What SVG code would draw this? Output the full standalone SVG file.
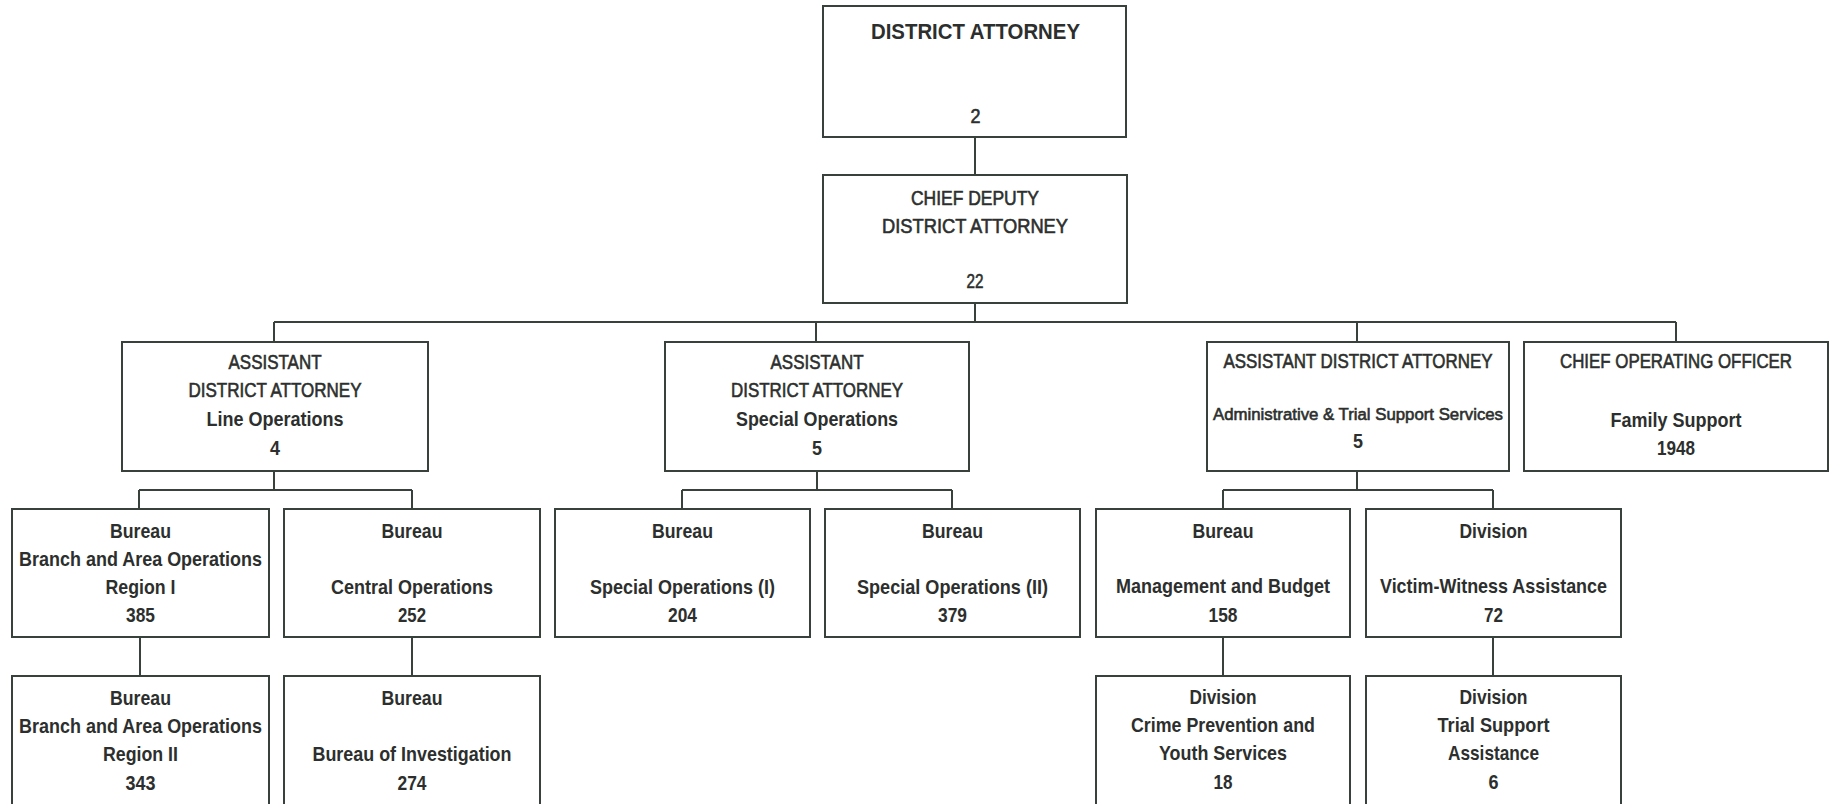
<svg xmlns="http://www.w3.org/2000/svg" width="1837" height="804" viewBox="0 0 1837 804">
  <style>
    .box { fill: #ffffff; stroke: #39413c; stroke-width: 2; }
    .wire { fill: none; stroke: #39413c; stroke-width: 2; }
    text { font-family: "Liberation Sans", Arial, sans-serif; fill: #2c2f2d; text-anchor: middle; }
    .b { font-weight: bold; font-size: 21px; }
    .bl { font-weight: bold; font-size: 22px; }
    .r { font-weight: normal; font-size: 20px; stroke: #2c2f2d; stroke-width: 0.6; }
    .s { font-weight: normal; font-size: 17px; stroke: #2c2f2d; stroke-width: 0.6; }
  </style>
  <rect width="1837" height="804" fill="#ffffff"/>

  <!-- reporting lines -->
  <g id="connectors">
    <path class="wire" d="M975 137V175M975 303V322M274 322H1676M274 322V342M816 322V342M1357 322V342M1676 322V342"/>
    <path class="wire" d="M274 471V490M139 490H412M139 490V509M412 490V509"/>
    <path class="wire" d="M817 471V490M682 490H952M682 490V509M952 490V509"/>
    <path class="wire" d="M1357 471V490M1223 490H1493M1223 490V509M1493 490V509"/>
    <path class="wire" d="M140 637V676M412 637V676M1223 637V676M1493 637V676"/>
  </g>

  <!-- top level -->
  <g id="district-attorney">
    <rect class="box" x="823" y="6" width="303" height="131"/>
    <text class="bl" x="975.5" y="39" textLength="209" lengthAdjust="spacingAndGlyphs">DISTRICT ATTORNEY</text>
    <text class="r" x="975.5" y="123" textLength="10" lengthAdjust="spacingAndGlyphs">2</text>
  </g>
  <g id="chief-deputy">
    <rect class="box" x="823" y="175" width="304" height="128"/>
    <text class="r" x="975" y="205" textLength="128" lengthAdjust="spacingAndGlyphs">CHIEF DEPUTY</text>
    <text class="r" x="975" y="233" textLength="186" lengthAdjust="spacingAndGlyphs">DISTRICT ATTORNEY</text>
    <text class="r" x="975" y="288" textLength="17" lengthAdjust="spacingAndGlyphs">22</text>
  </g>

  <!-- assistant level -->
  <g id="ada-line-operations">
    <rect class="box" x="122" y="342" width="306" height="129"/>
    <text class="r" x="275" y="369" textLength="93" lengthAdjust="spacingAndGlyphs">ASSISTANT</text>
    <text class="r" x="275" y="397" textLength="173" lengthAdjust="spacingAndGlyphs">DISTRICT ATTORNEY</text>
    <text class="b" x="275" y="426" textLength="137" lengthAdjust="spacingAndGlyphs">Line Operations</text>
    <text class="b" x="275" y="455" textLength="10" lengthAdjust="spacingAndGlyphs">4</text>
  </g>
  <g id="ada-special-operations">
    <rect class="box" x="665" y="342" width="304" height="129"/>
    <text class="r" x="817" y="369" textLength="93" lengthAdjust="spacingAndGlyphs">ASSISTANT</text>
    <text class="r" x="817" y="397" textLength="172" lengthAdjust="spacingAndGlyphs">DISTRICT ATTORNEY</text>
    <text class="b" x="817" y="426" textLength="162" lengthAdjust="spacingAndGlyphs">Special Operations</text>
    <text class="b" x="817" y="455" textLength="10" lengthAdjust="spacingAndGlyphs">5</text>
  </g>
  <g id="ada-admin-trial-support">
    <rect class="box" x="1207" y="342" width="302" height="129"/>
    <text class="r" x="1358" y="368" textLength="269" lengthAdjust="spacingAndGlyphs">ASSISTANT DISTRICT ATTORNEY</text>
    <text class="s" x="1358" y="420" textLength="290" lengthAdjust="spacingAndGlyphs">Administrative &amp; Trial Support Services</text>
    <text class="b" x="1358" y="448" textLength="10" lengthAdjust="spacingAndGlyphs">5</text>
  </g>
  <g id="chief-operating-officer">
    <rect class="box" x="1524" y="342" width="304" height="129"/>
    <text class="r" x="1676" y="368" textLength="232" lengthAdjust="spacingAndGlyphs">CHIEF OPERATING OFFICER</text>
    <text class="b" x="1676" y="427" textLength="131" lengthAdjust="spacingAndGlyphs">Family Support</text>
    <text class="b" x="1676" y="455" textLength="38" lengthAdjust="spacingAndGlyphs">1948</text>
  </g>

  <!-- bureaus and divisions -->
  <g id="branch-area-region-1">
    <rect class="box" x="12" y="509" width="257" height="128"/>
    <text class="b" x="140.5" y="538" textLength="61" lengthAdjust="spacingAndGlyphs">Bureau</text>
    <text class="b" x="140.5" y="566" textLength="243" lengthAdjust="spacingAndGlyphs">Branch and Area Operations</text>
    <text class="b" x="140.5" y="594" textLength="70" lengthAdjust="spacingAndGlyphs">Region I</text>
    <text class="b" x="140.5" y="622" textLength="29" lengthAdjust="spacingAndGlyphs">385</text>
  </g>
  <g id="central-operations">
    <rect class="box" x="284" y="509" width="256" height="128"/>
    <text class="b" x="412" y="538" textLength="61" lengthAdjust="spacingAndGlyphs">Bureau</text>
    <text class="b" x="412" y="594" textLength="162" lengthAdjust="spacingAndGlyphs">Central Operations</text>
    <text class="b" x="412" y="622" textLength="28" lengthAdjust="spacingAndGlyphs">252</text>
  </g>
  <g id="special-operations-1">
    <rect class="box" x="555" y="509" width="255" height="128"/>
    <text class="b" x="682.5" y="538" textLength="61" lengthAdjust="spacingAndGlyphs">Bureau</text>
    <text class="b" x="682.5" y="594" textLength="185" lengthAdjust="spacingAndGlyphs">Special Operations (I)</text>
    <text class="b" x="682.5" y="622" textLength="29" lengthAdjust="spacingAndGlyphs">204</text>
  </g>
  <g id="special-operations-2">
    <rect class="box" x="825" y="509" width="255" height="128"/>
    <text class="b" x="952.5" y="538" textLength="61" lengthAdjust="spacingAndGlyphs">Bureau</text>
    <text class="b" x="952.5" y="594" textLength="191" lengthAdjust="spacingAndGlyphs">Special Operations (II)</text>
    <text class="b" x="952.5" y="622" textLength="29" lengthAdjust="spacingAndGlyphs">379</text>
  </g>
  <g id="management-budget">
    <rect class="box" x="1096" y="509" width="254" height="128"/>
    <text class="b" x="1223" y="538" textLength="61" lengthAdjust="spacingAndGlyphs">Bureau</text>
    <text class="b" x="1223" y="593" textLength="214" lengthAdjust="spacingAndGlyphs">Management and Budget</text>
    <text class="b" x="1223" y="622" textLength="29" lengthAdjust="spacingAndGlyphs">158</text>
  </g>
  <g id="victim-witness">
    <rect class="box" x="1366" y="509" width="255" height="128"/>
    <text class="b" x="1493.5" y="538" textLength="68" lengthAdjust="spacingAndGlyphs">Division</text>
    <text class="b" x="1493.5" y="593" textLength="227" lengthAdjust="spacingAndGlyphs">Victim-Witness Assistance</text>
    <text class="b" x="1493.5" y="622" textLength="19" lengthAdjust="spacingAndGlyphs">72</text>
  </g>

  <g id="branch-area-region-2">
    <rect class="box" x="12" y="676" width="257" height="140"/>
    <text class="b" x="140.5" y="705" textLength="61" lengthAdjust="spacingAndGlyphs">Bureau</text>
    <text class="b" x="140.5" y="733" textLength="243" lengthAdjust="spacingAndGlyphs">Branch and Area Operations</text>
    <text class="b" x="140.5" y="761" textLength="75" lengthAdjust="spacingAndGlyphs">Region II</text>
    <text class="b" x="140.5" y="790" textLength="30" lengthAdjust="spacingAndGlyphs">343</text>
  </g>
  <g id="bureau-of-investigation">
    <rect class="box" x="284" y="676" width="256" height="140"/>
    <text class="b" x="412" y="705" textLength="61" lengthAdjust="spacingAndGlyphs">Bureau</text>
    <text class="b" x="412" y="761" textLength="199" lengthAdjust="spacingAndGlyphs">Bureau of Investigation</text>
    <text class="b" x="412" y="790" textLength="29" lengthAdjust="spacingAndGlyphs">274</text>
  </g>
  <g id="crime-prevention-youth">
    <rect class="box" x="1096" y="676" width="254" height="140"/>
    <text class="b" x="1223" y="704" textLength="67" lengthAdjust="spacingAndGlyphs">Division</text>
    <text class="b" x="1223" y="732" textLength="184" lengthAdjust="spacingAndGlyphs">Crime Prevention and</text>
    <text class="b" x="1223" y="760" textLength="128" lengthAdjust="spacingAndGlyphs">Youth Services</text>
    <text class="b" x="1223" y="789" textLength="19" lengthAdjust="spacingAndGlyphs">18</text>
  </g>
  <g id="trial-support-assistance">
    <rect class="box" x="1366" y="676" width="255" height="140"/>
    <text class="b" x="1493.5" y="704" textLength="68" lengthAdjust="spacingAndGlyphs">Division</text>
    <text class="b" x="1493.5" y="732" textLength="112" lengthAdjust="spacingAndGlyphs">Trial Support</text>
    <text class="b" x="1493.5" y="760" textLength="91" lengthAdjust="spacingAndGlyphs">Assistance</text>
    <text class="b" x="1493.5" y="789" textLength="10" lengthAdjust="spacingAndGlyphs">6</text>
  </g>
</svg>
